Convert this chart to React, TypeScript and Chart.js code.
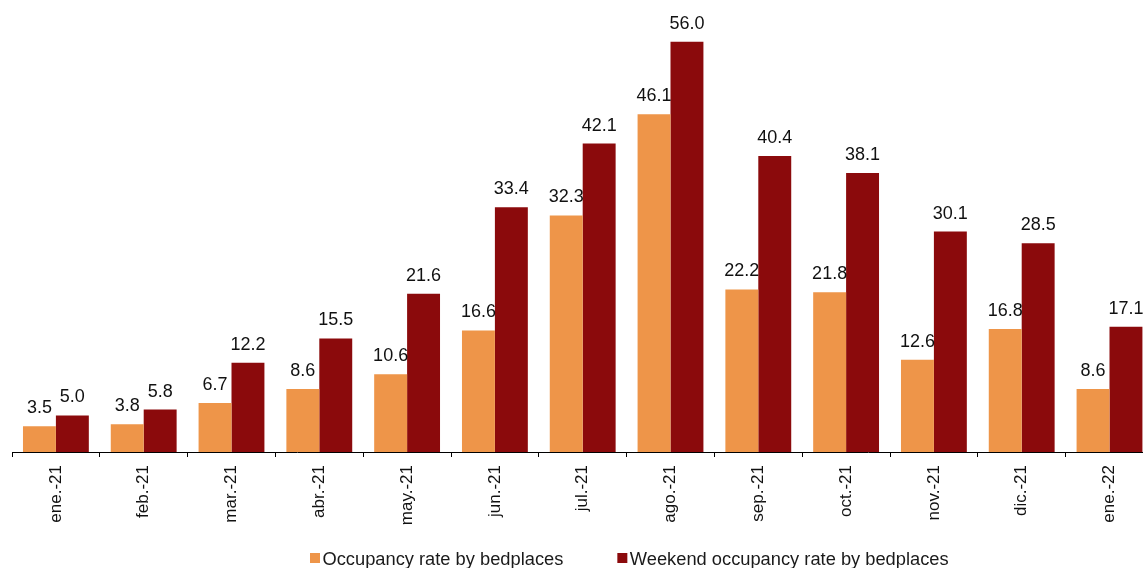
import React, { useEffect, useRef } from "react";
import { Chart, registerables } from "chart.js";

Chart.register(...registerables);

const categories = [
  "ene.-21", "feb.-21", "mar.-21", "abr.-21", "may.-21", "jun.-21", "jul.-21",
  "ago.-21", "sep.-21", "oct.-21", "nov.-21", "dic.-21", "ene.-22",
];
const occupancy = [3.5, 3.8, 6.7, 8.6, 10.6, 16.6, 32.3, 46.1, 22.2, 21.8, 12.6, 16.8, 8.6];
const weekendOccupancy = [5.0, 5.8, 12.2, 15.5, 21.6, 33.4, 42.1, 56.0, 40.4, 38.1, 30.1, 28.5, 17.1];
const seriesLabels = ["Occupancy rate by bedplaces", "Weekend occupancy rate by bedplaces"];
const yMin = 0;
const yMax = 60;

const FONT = '"Liberation Sans", Arial, Helvetica, sans-serif';
const COLORS = ["#EE9549", "#8B0A0C"];

const labelsPlugin = {
  id: "valueLabels",
  afterDatasetsDraw(chart: any) {
    const ctx = chart.ctx;
    ctx.save();
    ctx.font = `18px ${FONT}`;
    ctx.fillStyle = "#111111";
    ctx.textAlign = "center";
    ctx.textBaseline = "alphabetic";
    chart.data.datasets.forEach((ds: any, i: number) => {
      const meta = chart.getDatasetMeta(i);
      meta.data.forEach((el: any, j: number) => {
        const v = ds.data[j] as number;
        ctx.fillText(v.toFixed(1), el.x, el.y - 13);
      });
    });
    ctx.restore();
  },
};

const legendPlugin = {
  id: "customLegend",
  afterDraw(chart: any) {
    const ctx = chart.ctx;
    ctx.save();
    ctx.font = `18.3px ${FONT}`;
    ctx.textBaseline = "alphabetic";
    ctx.textAlign = "left";
    const boxSize = 10;
    const gapText = 2.5;
    const gapItems = 54;
    const baseline = 565;
    const boxTop = 553;
    let x = 310;
    chart.data.datasets.forEach((ds: any) => {
      ctx.fillStyle = ds.backgroundColor;
      ctx.fillRect(x, boxTop, boxSize, boxSize);
      const tx = x + boxSize + gapText;
      const w = ctx.measureText(ds.label).width;
      ctx.fillStyle = "#1a1a1a";
      ctx.fillText(ds.label, tx, baseline);
      x = tx + w + gapItems;
    });
    ctx.restore();
  },
};

export default function App() {
  const ref = useRef<HTMLCanvasElement | null>(null);

  useEffect(() => {
    if (!ref.current) return;
    const chart = new Chart(ref.current, {
      type: "bar",
      data: {
        labels: categories,
        datasets: [
          {
            label: seriesLabels[0],
            data: occupancy,
            backgroundColor: COLORS[0],
            borderWidth: 0,
            categoryPercentage: 0.75,
            barPercentage: 1.0,
          },
          {
            label: seriesLabels[1],
            data: weekendOccupancy,
            backgroundColor: COLORS[1],
            borderWidth: 0,
            categoryPercentage: 0.75,
            barPercentage: 1.0,
          },
        ],
      },
      options: {
        animation: false,
        responsive: false,
        devicePixelRatio: 1,
        layout: { padding: { left: 12, right: 4.6, top: 12.5, bottom: 36 } },
        plugins: {
          legend: { display: false },
          tooltip: { enabled: false },
        },
        scales: {
          x: {
            offset: true,
            grid: {
              display: true,
              drawOnChartArea: false,
              drawTicks: true,
              tickLength: 5,
              color: "#000000",
              offset: true,
            },
            border: { display: true, color: "#000000", width: 1 },
            ticks: {
              autoSkip: false,
              maxRotation: 90,
              minRotation: 90,
              color: "#111111",
              padding: 8,
              font: { family: FONT, size: 17 },
            },
            afterFit: (scale: any) => {
              scale.height = 80;
            },
          },
          y: { display: false, min: yMin, max: yMax },
        },
      },
      plugins: [labelsPlugin, legendPlugin],
    });
    return () => chart.destroy();
  }, []);

  return (
    <>
      <style>{"html,body{margin:0;padding:0;overflow:hidden;}"}</style>
      <div style={{ width: 1143, height: 568, overflow: "hidden" }}>
        <canvas ref={ref} width={1158} height={568} style={{ display: "block" }} />
      </div>
    </>
  );
}
